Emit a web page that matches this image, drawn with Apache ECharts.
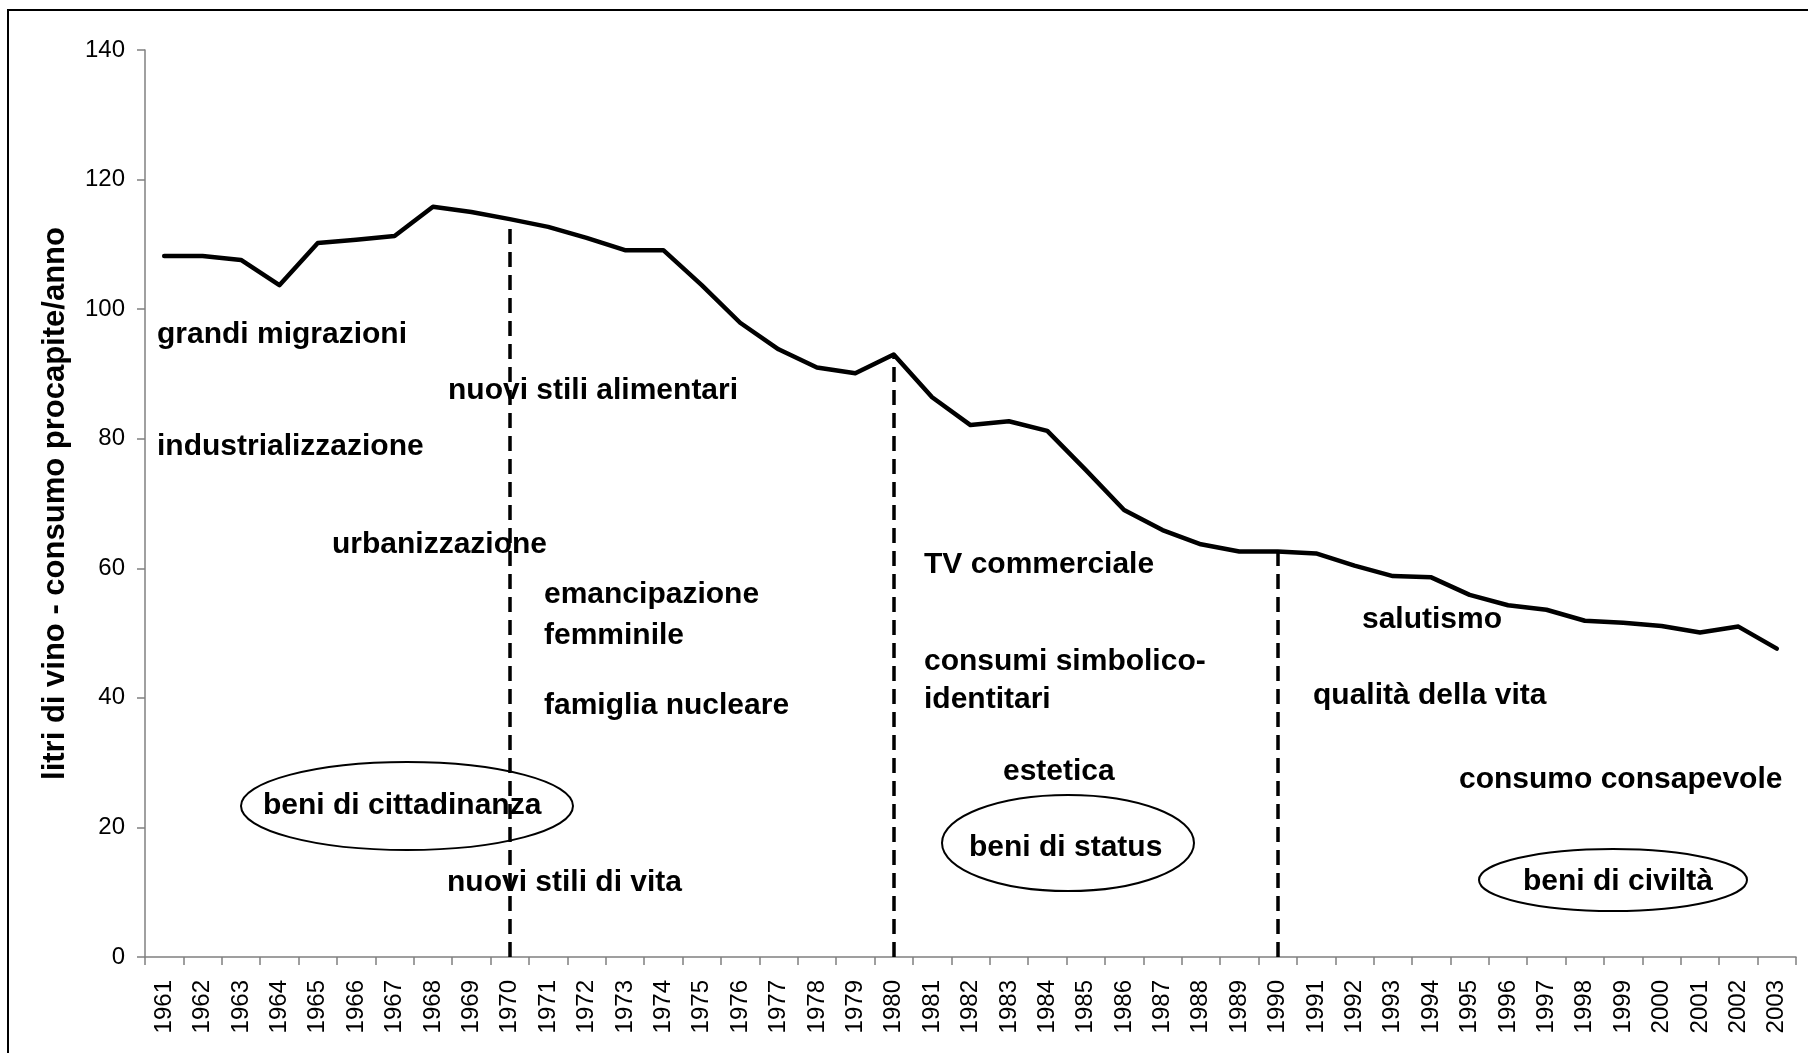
<!DOCTYPE html>
<html>
<head>
<meta charset="utf-8">
<script src="https://cdn.jsdelivr.net/npm/echarts@6/dist/echarts.min.js"></script>
<style>
  html, body { margin: 0; padding: 0; background: #fff; }
  #chartBox { width: 1808px; height: 1053px; }
</style>
</head>
<body>
<div id="chartBox"></div>
<script>
// dati: consumo di vino procapite (litri/anno)
const years = ['1961', '1962', '1963', '1964', '1965', '1966', '1967', '1968', '1969', '1970',
  '1971', '1972', '1973', '1974', '1975', '1976', '1977', '1978', '1979', '1980',
  '1981', '1982', '1983', '1984', '1985', '1986', '1987', '1988', '1989', '1990',
  '1991', '1992', '1993', '1994', '1995', '1996', '1997', '1998', '1999', '2000',
  '2001', '2002', '2003']
const consumo = [108.2, 108.2, 107.6, 103.7, 110.2, 110.7, 111.3, 115.8, 115.0, 113.9,
  112.7, 111.0, 109.1, 109.1, 103.7, 97.9, 93.8, 91.0, 90.1, 93.0,
  86.4, 82.1, 82.7, 81.2, 75.2, 69.0, 65.9, 63.7, 62.6, 62.6,
  62.3, 60.4, 58.8, 58.6, 55.9, 54.3, 53.6, 51.9, 51.6, 51.1,
  50.1, 51.0, 47.6]
const yTicks = [0, 20, 40, 60, 80, 100, 120, 140]
const periodi = ['1970', '1980', '1990']

const FONT = "'Liberation Sans', Arial, sans-serif"

// note di testo (caselle di testo del grafico originale)
const note = [
  { t: 'grandi migrazioni', x: 157, y: 335 },
  { t: 'industrializzazione', x: 157, y: 447 },
  { t: 'urbanizzazione', x: 332, y: 545 },
  { t: 'nuovi stili alimentari', x: 448, y: 391 },
  { t: 'emancipazione', x: 544, y: 595 },
  { t: 'femminile', x: 544, y: 636 },
  { t: 'famiglia nucleare', x: 544, y: 706 },
  { t: 'beni di cittadinanza', x: 263, y: 806 },
  { t: 'nuovi stili di vita', x: 447, y: 883 },
  { t: 'TV commerciale', x: 924, y: 565 },
  { t: 'consumi simbolico-', x: 924, y: 662 },
  { t: 'identitari', x: 924, y: 700 },
  { t: 'estetica', x: 1003, y: 772 },
  { t: 'beni di status', x: 969, y: 848 },
  { t: 'salutismo', x: 1362, y: 620 },
  { t: 'qualità della vita', x: 1313, y: 696 },
  { t: 'consumo consapevole', x: 1459, y: 780 },
  { t: 'beni di civiltà', x: 1523, y: 882 }
]
const ellissi = [
  { cx: 407, cy: 806, rx: 166, ry: 44 },
  { cx: 1068, cy: 843, rx: 126, ry: 48 },
  { cx: 1613, cy: 880, rx: 134, ry: 31 }
]

let myChart = echarts.init(document.getElementById('chartBox'))

let linee = periodi.map(function (y) {
  let i = years.indexOf(y)
  return [{ coord: [y, 0] }, { coord: [y, consumo[i]] }]
})

let graphic = [{
  type: 'rect',
  shape: { x: 8, y: 10, width: 1830, height: 1080 },
  style: { fill: 'none', stroke: '#000', lineWidth: 2 },
  silent: true
}]
ellissi.forEach(function (e) {
  graphic.push({
    type: 'ellipse',
    shape: e,
    style: { fill: 'none', stroke: '#000', lineWidth: 2 },
    silent: true
  })
})
note.forEach(function (n) {
  graphic.push({
    type: 'text',
    x: n.x,
    y: n.y,
    style: {
      text: n.t,
      fill: '#000',
      fontSize: 30,
      fontWeight: 'bold',
      fontFamily: FONT,
      verticalAlign: 'middle'
    },
    silent: true
  })
})

myChart.setOption({
  animation: false,
  grid: { left: 145, top: 50, right: 12, bottom: 96 },
  xAxis: {
    type: 'category',
    data: years,
    boundaryGap: true,
    axisLine: { lineStyle: { color: '#808080', width: 1.5 } },
    axisTick: { show: true, interval: 0, length: 8, lineStyle: { color: '#808080', width: 1.5 } },
    axisLabel: {
      interval: 0,
      rotate: 90,
      margin: 23,
      color: '#000',
      fontSize: 24,
      fontFamily: FONT
    },
    splitLine: { show: false }
  },
  yAxis: {
    type: 'value',
    min: yTicks[0],
    max: yTicks[yTicks.length - 1],
    interval: 20,
    name: 'litri di vino - consumo procapite/anno',
    nameLocation: 'middle',
    nameRotate: 90,
    nameGap: 74,
    nameTextStyle: { color: '#000', fontSize: 31, fontWeight: 'bold', fontFamily: FONT },
    axisLine: { show: true, lineStyle: { color: '#808080', width: 1.5 } },
    axisTick: { show: true, length: 8, lineStyle: { color: '#808080', width: 1.5 } },
    axisLabel: { margin: 20, color: '#000', fontSize: 24, fontFamily: FONT },
    splitLine: { show: false }
  },
  graphic: graphic,
  series: [{
    type: 'line',
    data: consumo,
    symbol: 'none',
    lineStyle: { color: '#000', width: 4.5, join: 'round', cap: 'round' },
    markLine: {
      silent: true,
      symbol: 'none',
      label: { show: false },
      lineStyle: { color: '#000', width: 3.5, type: [15, 8] },
      data: linee
    }
  }]
})
</script>
</body>
</html>
